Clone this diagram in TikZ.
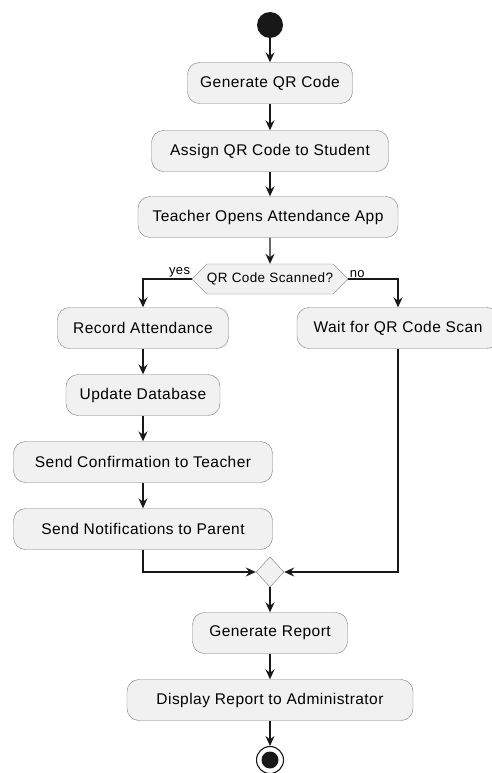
\documentclass[tikz,border=0pt]{standalone}
\usepackage{fontspec}
\setmainfont{Liberation Sans}[LetterSpace=3]
\usetikzlibrary{shapes.geometric,shapes.symbols,arrows.meta}

\definecolor{fond}{HTML}{F1F1F1}
\definecolor{bord}{HTML}{7A7A7A}
\definecolor{trait}{HTML}{181818}

\tikzset { etape/.style={draw=bord, fill=fond, rounded corners=12pt, minimum height=41pt,
	minimum width=#1, inner xsep=4pt, font=\fontsize{15.5}{17}\selectfont} }
\tikzset { hexa/.style={draw=bord, fill=fond, signal, signal to=east and west, signal pointer angle=90,
	minimum height=30pt, inner xsep=0pt, font=\fontsize{13.5}{15}\selectfont} }
\tikzset { losange/.style={draw=bord, fill=fond, diamond, inner sep=0pt, minimum width=28pt, minimum height=30pt} }
\tikzset { fleche/.style={draw=trait, line width=1.1pt, -{Stealth[length=10pt, width=9pt, inset=3.5pt]}} }
\tikzset { etiquette/.style={inner sep=1pt, font=\fontsize{13}{15}\selectfont} }

\begin{document}
\begin{tikzpicture}[x=1pt, y=-1pt]
	\useasboundingbox (0,0) rectangle (491,773);
	\node[circle, fill=trait, minimum size=26pt] (depart) at (270,25) {};
	\node[etape=165pt] (genere) at (270,83) {Generate QR Code};
	\node[etape=237pt] (assigne) at (270,151) {Assign QR Code to Student};
	\node[etape=260pt] (ouvre) at (268,217) {Teacher Opens Attendance App};
	\node[hexa] (scan) at (270,279) {QR Code Scanned?};
	\node[etape=171pt] (presence) at (143,328) {Record Attendance};
	\node[etape=202pt] (attente) at (398,328) {Wait for QR Code Scan};
	\node[etape=154pt] (base) at (143,395) {Update Database};
	\node[etape=259pt] (confirme) at (143,462) {Send Confirmation to Teacher};
	\node[etape=259pt] (parent) at (143,529) {Send Notifications to Parent};
	\node[losange] (rejoint) at (270,572) {};
	\node[etape=155pt] (rapport) at (270,633) {Generate Report};
	\node[etape=286pt] (affiche) at (270,700) {Display Report to Administrator};
	\node[circle, draw=trait, fill=white, line width=1.1pt, minimum size=27pt] (arrivee) at (270,760) {};
	\fill[trait] (arrivee) circle (8.5pt);

	\draw[fleche] (depart) -- (genere);
	\draw[fleche] (genere) -- (assigne);
	\draw[fleche] (assigne) -- (assigne |- ouvre.north);
	\draw[fleche] (scan |- ouvre.south) -- (scan);
	\draw[fleche] (scan.west) -| (presence.north) node[etiquette, pos=0, anchor=south east] {yes};
	\draw[fleche] (scan.east) -| (attente.north) node[etiquette, pos=0, anchor=south west] {no};
	\draw[fleche] (presence) -- (base);
	\draw[fleche] (base) -- (confirme);
	\draw[fleche] (confirme) -- (parent);
	\draw[fleche] (parent.south) |- (rejoint.west);
	\draw[fleche] (attente.south) |- (rejoint.east);
	\draw[fleche] (rejoint) -- (rapport);
	\draw[fleche] (rapport) -- (affiche);
	\draw[fleche] (affiche) -- (arrivee);
\end{tikzpicture}
\end{document}
